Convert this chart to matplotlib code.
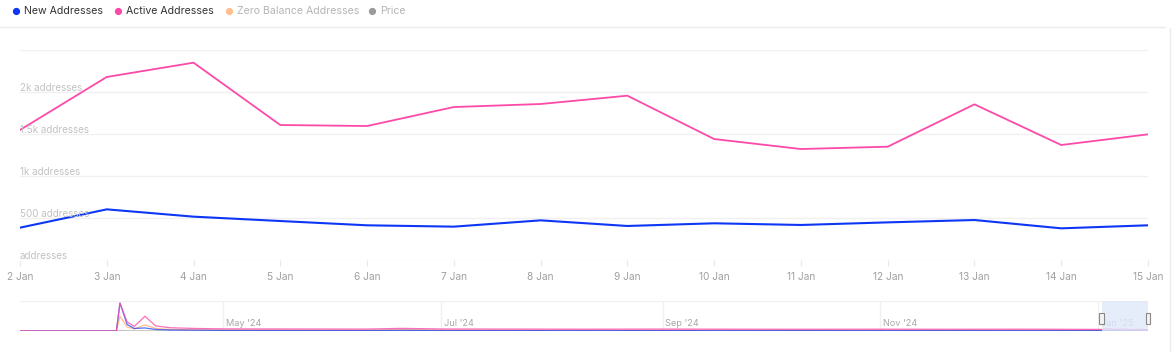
import matplotlib
matplotlib.use('Agg')
import matplotlib.pyplot as plt
import matplotlib.dates as mdates
from matplotlib.patches import Rectangle
import pandas as pd

plt.rcParams['font.family'] = ['Inter', 'DejaVu Sans']

# data
days = pd.date_range('2025-01-02', '2025-01-15', freq='D')
new_addresses = [385, 603, 516, 464, 413, 397, 472, 405, 437, 417, 448, 476, 377, 413]
active_addresses = [1548, 2179, 2349, 1607, 1595, 1821, 1857, 1956, 1440, 1321, 1349, 1853, 1369, 1496]
y_ticks = [0, 500, 1000, 1500, 2000, 2500]
y_tick_labels = ['addresses', '500 addresses', '1k addresses', '1.5k addresses', '2k addresses', '']

# navigator history (rough estimate), joined with the visible days
nav_dates = pd.to_datetime(['2024-03-05', '2024-03-25', '2024-04-01', '2024-04-02', '2024-04-04',
                            '2024-04-06', '2024-04-09', '2024-04-12', '2024-04-16', '2024-04-23',
                            '2024-05-01', '2024-05-20', '2024-06-10', '2024-06-20', '2024-07-01',
                            '2024-07-20', '2024-08-10', '2024-09-01', '2024-09-20', '2024-10-10',
                            '2024-11-01', '2024-11-20', '2024-12-10', '2025-01-01'])
nav_new = [0, 0, 0, 27500, 6500, 2500, 3000, 1500, 1000, 800,
           600, 550, 500, 700, 500, 500, 450, 500, 450, 450, 450, 450, 450, 430]
nav_active = [0, 0, 0, 27500, 9000, 4500, 14500, 5000, 3200, 2500,
              2100, 2000, 1900, 2600, 2000, 1900, 1800, 1900, 1800, 1700, 1800, 1700, 1800, 1600]
nav_zero = [0, 0, 0, 14500, 4000, 2000, 6000, 2500, 1500, 1200,
            1000, 900, 900, 1300, 900, 900, 800, 900, 800, 800, 800, 800, 800, 800]
nav_price = [0, 0, 0, 600, 400, 300, 300, 250, 200, 200,
             200, 200, 200, 200, 200, 200, 200, 200, 200, 200, 200, 200, 200, 200]

BLUE = '#0d37f5'
PINK = '#fd4aa9'
ORANGE = '#ffbe8e'
GRAY = '#9a9a9a'
GRID = '#f0f0f0'
LABEL = '#c2c2c2'

W, H = 1175, 352
fig = plt.figure(figsize=(W / 100, H / 100), dpi=100)

# legend row
legend_items = [('New Addresses', BLUE, '#333333', 16),
                ('Active Addresses', PINK, '#333333', 118),
                ('Zero Balance Addresses', ORANGE, '#b5b5b5', 229),
                ('Price', GRAY, '#b5b5b5', 372)]
for name, col, tcol, px in legend_items:
    fig.text(px / W, 1 - 12 / H, '\u25cf', color=col, fontsize=7, va='center', ha='center')
    fig.text((px + 8) / W, 1 - 11.5 / H, name, color=tcol, fontsize=7.6, va='center')
fig.add_artist(plt.Line2D([0, 1165 / W], [1 - 27 / H, 1 - 27 / H], color='#ececec', lw=1))
fig.add_artist(plt.Line2D([1170 / W, 1170 / W], [0, 1 - 28 / H], color='#ececec', lw=1))

# main chart
ax = fig.add_axes([20 / W, 1 - 260 / H, 1128 / W, 210 / H])
ax.plot(days, active_addresses, color=PINK, lw=1.3, zorder=3)
ax.plot(days, new_addresses, color=BLUE, lw=1.5, zorder=3)
ax.set_xlim(days[0], days[-1])
ax.set_ylim(0, 2500)
for v, lab in zip(y_ticks, y_tick_labels):
    ax.axhline(v, color=GRID, lw=1, zorder=1)
    if lab:
        ax.annotate(lab, xy=(0, v), xycoords=('axes fraction', 'data'), xytext=(0, 0.8),
                    textcoords='offset points', color=LABEL, fontsize=7.1, va='baseline', ha='left')
for s in ax.spines.values():
    s.set_visible(False)
ax.set_yticks([])
ax.set_xticks(days)
ax.set_xticklabels([f'{d.day} Jan' for d in days])
ax.tick_params(axis='x', length=4, color='#e8e8e8', labelcolor='#a0a0a0', labelsize=7.3, pad=5)
ax.xaxis.set_ticks_position('bottom')

# navigator
nav = fig.add_axes([20 / W, 1 - 331 / H, 1128 / W, 30 / H])
all_dates = list(nav_dates) + list(days)
nav.plot(all_dates, nav_price + [200] * len(days), color=GRAY, lw=0.8, alpha=0.6)
nav.plot(all_dates, nav_zero + [800] * len(days), color=ORANGE, lw=0.9)
nav.plot(all_dates, nav_new + new_addresses, color=BLUE, lw=0.9, alpha=0.7)
nav.plot(all_dates, nav_active + active_addresses, color=PINK, lw=0.9, alpha=0.8)
nav.set_xlim(nav_dates[0], days[-1])
nav.set_ylim(0, 29500)
nav.axhline(29500, color=GRID, lw=1)
month_ticks = pd.to_datetime(['2024-05-01', '2024-07-01', '2024-09-01', '2024-11-01', '2025-01-01'])
for m in month_ticks:
    nav.axvline(m, color=GRID, lw=1, zorder=0)
    nav.annotate(m.strftime("%b '%y"), xy=(m, 0), xycoords='data', xytext=(2, 2),
                 textcoords='offset points', color='#a8a8a8', fontsize=6.6, va='bottom')
sel = Rectangle((mdates.date2num(days[0]), 0), mdates.date2num(days[-1]) - mdates.date2num(days[0]),
                29500, color='#dfe9fb', alpha=0.8, zorder=4, lw=0)
nav.add_patch(sel)
for d in [days[0], days[-1]]:
    nav.add_patch(Rectangle((mdates.date2num(d) - 0.6, 7000), 1.2, 11000, facecolor='#f4f4f4',
                            edgecolor='#888888', lw=0.8, zorder=5, clip_on=False))
nav.set_xticks([])
nav.set_yticks([])
for s in nav.spines.values():
    s.set_visible(False)

fig.savefig('out.png', dpi=100, facecolor='white')
